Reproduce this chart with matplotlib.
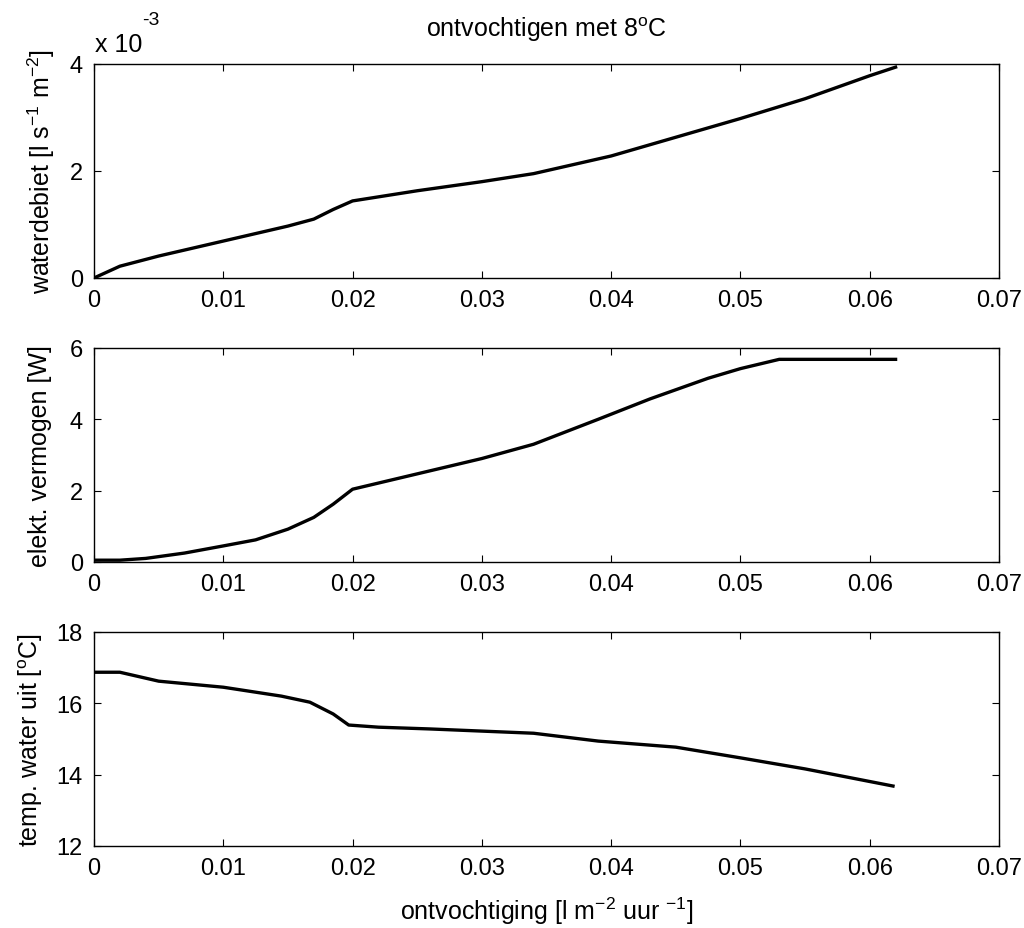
import matplotlib.pyplot as plt
import numpy as np
from matplotlib.ticker import FuncFormatter

# data
x_water = [0, 0.002, 0.005, 0.01, 0.015, 0.017, 0.0185, 0.02, 0.025, 0.03,
           0.034, 0.04, 0.045, 0.05, 0.055, 0.06, 0.062]
waterdebiet = [0, 0.22e-3, 0.41e-3, 0.69e-3, 0.97e-3, 1.10e-3, 1.28e-3, 1.44e-3,
               1.63e-3, 1.80e-3, 1.95e-3, 2.28e-3, 2.63e-3, 2.98e-3, 3.35e-3,
               3.78e-3, 3.94e-3]

x_power = [0, 0.002, 0.004, 0.007, 0.01, 0.0125, 0.015, 0.017, 0.0185, 0.02,
           0.025, 0.03, 0.034, 0.039, 0.043, 0.0475, 0.05, 0.053, 0.062]
vermogen = [0.05, 0.05, 0.1, 0.25, 0.45, 0.62, 0.92, 1.25, 1.62, 2.04,
            2.47, 2.9, 3.3, 4.0, 4.57, 5.15, 5.42, 5.68, 5.68]

x_temp = [0, 0.002, 0.005, 0.01, 0.0145, 0.0167, 0.0185, 0.0197, 0.022, 0.026,
          0.03, 0.034, 0.039, 0.045, 0.05, 0.055, 0.0618]
temp_uit = [16.87, 16.87, 16.62, 16.45, 16.2, 16.03, 15.7, 15.39, 15.33, 15.28,
            15.22, 15.16, 14.94, 14.77, 14.47, 14.16, 13.68]

xticks = np.arange(0, 0.0701, 0.01)

plt.rcParams['font.family'] = ['Liberation Sans', 'DejaVu Sans']
plt.rcParams['mathtext.fontset'] = 'custom'
plt.rcParams['mathtext.rm'] = 'Liberation Sans'
plt.rcParams['mathtext.default'] = 'regular'

fig = plt.figure(figsize=(10.24, 9.29), dpi=100)
left, width, height = 0.0918, 0.8838, 0.2304
ax1 = fig.add_axes([left, 0.6997, width, height])
ax2 = fig.add_axes([left, 0.394, width, height])
ax3 = fig.add_axes([left, 0.0883, width, height])

ax1.plot(x_water, waterdebiet, color='black', lw=2.4)
ax2.plot(x_power, vermogen, color='black', lw=2.4)
ax3.plot(x_temp, temp_uit, color='black', lw=2.4)

ax1.set_ylim(0, 0.004)
ax1.set_yticks([0, 0.002, 0.004])
ax1.yaxis.set_major_formatter(FuncFormatter(lambda v, p: f"{v * 1000:g}"))
ax2.set_ylim(0, 6)
ax2.set_yticks([0, 2, 4, 6])
ax3.set_ylim(12, 18)
ax3.set_yticks([12, 14, 16, 18])

for ax in (ax1, ax2, ax3):
    ax.set_xlim(0, 0.07)
    ax.set_xticks(xticks)
    ax.set_xticklabels([f"{t:g}" for t in xticks])
    ax.tick_params(direction='in', length=5, width=0.8, top=True, right=True,
                   labelsize=17, pad=8)
    for s in ax.spines.values():
        s.set_linewidth(1.0)

lab = dict(fontsize=18)
ax1.set_ylabel("waterdebiet [l s$^{-1}$ m$^{-2}$]", **lab)
ax2.set_ylabel("elekt. vermogen [W]", **lab)
ax3.set_ylabel("temp. water uit [$^{o}$C]", **lab)
ax1.yaxis.set_label_coords(-0.041, 0.5)
ax2.yaxis.set_label_coords(-0.046, 0.5)
ax3.yaxis.set_label_coords(-0.054, 0.5)
ax3.set_xlabel("ontvochtiging [l m$^{-2}$ uur $^{-1}$]", labelpad=11, **lab)
ax1.set_title("ontvochtigen met 8$^{o}$C", pad=20, **lab)
ax1.text(0.001, 1.061, "x 10", transform=ax1.transAxes, fontsize=18,
         ha='left', va='baseline')
ax1.text(0.053, 1.185, "-3", transform=ax1.transAxes, fontsize=14,
         ha='left', va='baseline')

fig.savefig("out.png", dpi=100)
